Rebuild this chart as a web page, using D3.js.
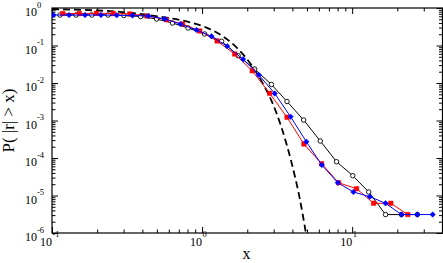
<!DOCTYPE html>
<html>
<head>
<meta charset="utf-8">
<script src="https://cdn.jsdelivr.net/npm/d3@7"></script>
<style>
  html, body { margin: 0; padding: 0; background: #fff; }
  svg { display: block; font-family: "Liberation Serif", "DejaVu Serif", serif; }
</style>
</head>
<body>
<div id="chart"></div>
<script>
const w = 443;
const h = 263;
const plotLeft = 52, plotRight = 442.5, plotTop = 8, plotBottom = 233;

// open black circles
const blackX = [0.113, 0.145, 0.184, 0.237, 0.301, 0.389, 0.498, 0.635, 0.807, 1.04, 1.35, 1.74, 2.24, 2.90, 3.68, 4.75, 6.13, 7.87, 10.1, 12.9, 16.7, 21.3, 27.2];
const blackY = [0.65, 0.65, 0.65, 0.65, 0.631, 0.593, 0.509, 0.398, 0.293, 0.203, 0.1295, 0.0535, 0.0236, 0.00912, 0.00321, 0.00103, 2.84e-4, 7.96e-5, 3.37e-5, 1.24e-5, 3.1e-6, 3.1e-6, 3.1e-6];

// red squares
const redX = [0.118, 0.152, 0.198, 0.256, 0.330, 0.431, 0.579, 0.741, 0.966, 1.26, 1.65, 2.16, 2.82, 3.68, 4.77, 6.26, 8.12, 10.7, 13.9, 18.1, 23.5];
const redY = [0.713, 0.713, 0.722, 0.713, 0.692, 0.612, 0.488, 0.374, 0.244, 0.132, 0.0593, 0.0211, 0.00531, 0.00122, 2.36e-4, 7.05e-5, 2.19e-5, 1.52e-5, 6.2e-6, 6.2e-6, 3.1e-6];

// blue diamonds
const blueX = [0.102, 0.130, 0.166, 0.212, 0.270, 0.344, 0.439, 0.565, 0.718, 0.918, 1.155, 1.47, 1.875, 2.39, 3.05, 3.89, 4.95, 6.28, 8.03, 10.2, 13.1, 16.7, 21.3, 27.2, 34.4];
const blueY = [0.650, 0.650, 0.650, 0.650, 0.639, 0.631, 0.612, 0.509, 0.374, 0.259, 0.176, 0.0958, 0.0429, 0.0163, 0.00525, 0.00126, 2.72e-4, 6.5e-5, 2.19e-5, 1.24e-5, 9.3e-6, 6.2e-6, 3.1e-6, 3.1e-6, 3.1e-6];

// dashed reference curve
const dashX = [0.1, 0.27, 0.52, 0.83, 1.07, 1.38, 1.69, 2.08, 2.55, 2.97, 3.37, 3.93, 4.47, 4.92];
const dashY = [0.93, 0.80, 0.59, 0.415, 0.30, 0.175, 0.09, 0.0345, 0.0095, 0.0027, 6.8e-4, 8e-5, 8.5e-6, 1e-6];

// ticks
const xMajor = [0.1, 1, 10];
const xExp = ["-1", "0", "1"];
const xMinor = [0.2, 0.3, 0.4, 0.5, 0.6, 0.7, 0.8, 0.9, 2, 3, 4, 5, 6, 7, 8, 9, 20, 30];
const yMajor = [1e-6, 1e-5, 1e-4, 1e-3, 1e-2, 1e-1, 1];
const yExp = ["-6", "-5", "-4", "-3", "-2", "-1", "0"];

const yMinor = [];
yMajor.slice(0, -1).forEach(d => { for (let k = 2; k <= 9; k++) yMinor.push(d * k); });

const x = d3.scaleLog().domain([0.1, 40]).range([plotLeft, plotRight]);
const y = d3.scaleLog().domain([1e-6, 1]).range([plotBottom, plotTop]);

const svg = d3.select("#chart").append("svg")
  .attr("width", w)
  .attr("height", h);

svg.append("clipPath").attr("id", "clip")
  .append("rect")
  .attr("x", plotLeft).attr("y", plotTop)
  .attr("width", plotRight - plotLeft).attr("height", plotBottom - plotTop);

// axes: ticks inside on all four sides
function styleAxis(g) {
  g.select(".domain").remove();
  g.selectAll("line").attr("stroke", "#000").attr("stroke-width", 1);
  g.selectAll("text").remove();
}
const axes = [
  [d3.axisBottom, plotBottom, true], [d3.axisTop, plotTop, true],
  [d3.axisLeft, plotLeft, false], [d3.axisRight, plotRight, false]
];
axes.forEach(([fn, pos, horiz]) => {
  const sc = horiz ? x : y;
  const tr = horiz ? "translate(0," + pos + ")" : "translate(" + pos + ",0)";
  svg.append("g").attr("transform", tr)
    .call(fn(sc).tickValues(horiz ? xMajor : yMajor).tickSize(-6).tickFormat(""))
    .call(styleAxis);
  svg.append("g").attr("transform", tr)
    .call(fn(sc).tickValues(horiz ? xMinor : yMinor).tickSize(-3.5).tickFormat(""))
    .call(styleAxis);
});

svg.append("rect")
  .attr("x", plotLeft).attr("y", plotTop)
  .attr("width", plotRight - plotLeft).attr("height", plotBottom - plotTop)
  .attr("fill", "none").attr("stroke", "#000").attr("stroke-width", 1.2);

// tick labels
xMajor.forEach((d, i) => {
  svg.append("text").attr("x", x(d)).attr("y", 245.5)
    .attr("text-anchor", "end").attr("font-size", 12).text("10");
  svg.append("text").attr("x", x(d) + 0.5).attr("y", 236.5)
    .attr("font-size", 8.5).text(xExp[i]);
});
yMajor.forEach((d, i) => {
  svg.append("text").attr("x", 25).attr("y", y(d) + 8)
    .attr("font-size", 12).text("10");
  svg.append("text").attr("x", 37).attr("y", y(d) - 0.3)
    .attr("font-size", 8.5).text(yExp[i]);
});

// axis titles
svg.append("text").attr("x", 246.5).attr("y", 258.5)
  .attr("text-anchor", "middle").attr("font-size", 16).text("x");
svg.append("text")
  .attr("transform", "translate(14," + ((plotTop + plotBottom) / 2) + ") rotate(-90)")
  .attr("text-anchor", "middle").attr("font-size", 17).text("P( |r| > x)");

const plot = svg.append("g").attr("clip-path", "url(#clip)");

// dashed curve
const dashData = dashX.map((d, i) => [d, dashY[i]]);
plot.append("path")
  .datum(dashData)
  .attr("fill", "none").attr("stroke", "#000")
  .attr("stroke-width", 1.8).attr("stroke-dasharray", "7,4")
  .attr("d", d3.line().x(d => x(d[0])).y(d => y(d[1])).curve(d3.curveMonotoneX));

function drawSeries(xs, ys, color, symbol, size, filled, rot) {
  const data = xs.map((d, i) => [d, ys[i]]);
  plot.append("path")
    .datum(data)
    .attr("fill", "none").attr("stroke", color).attr("stroke-width", 1)
    .attr("d", d3.line().x(d => x(d[0])).y(d => y(d[1])));
  plot.selectAll(null)
    .data(data)
    .enter()
    .append("path")
    .attr("transform", d => "translate(" + x(d[0]) + "," + y(d[1]) + ") rotate(" + rot + ")")
    .attr("d", d3.symbol().type(symbol).size(size))
    .attr("fill", filled ? color : "#fff")
    .attr("stroke", color)
    .attr("stroke-width", filled ? 0.5 : 0.9);
}

drawSeries(blackX, blackY, "#000", d3.symbolCircle, 16, false, 0);
drawSeries(redX, redY, "#ff0000", d3.symbolSquare, 20, true, 0);
drawSeries(blueX, blueY, "#0000ff", d3.symbolSquare, 15, true, 45);
</script>
</body>
</html>
